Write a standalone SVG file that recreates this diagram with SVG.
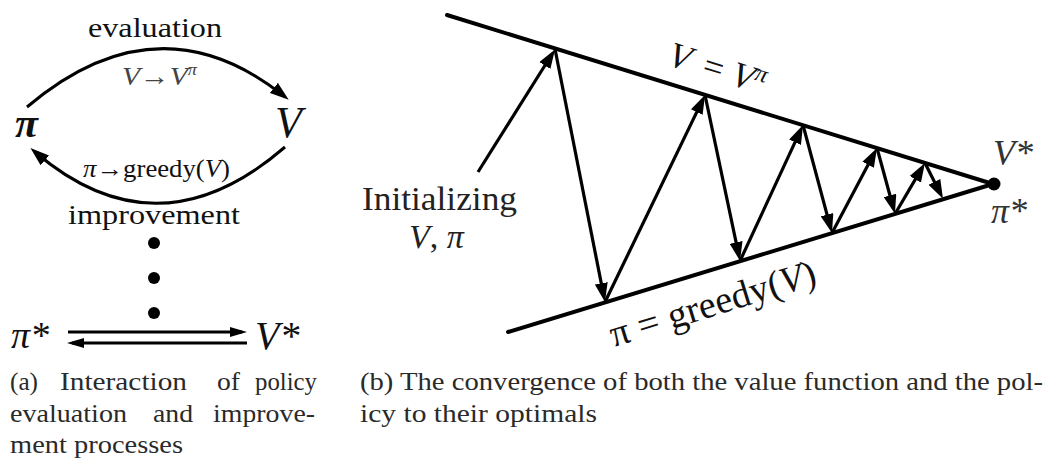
<svg xmlns="http://www.w3.org/2000/svg" width="1049" height="458" viewBox="0 0 1049 458">
<style>
  text { font-family: "Liberation Serif", "Times New Roman", serif; }
  .it { font-style: italic; }
  .lbl { fill: #111; }
  .cap { font-size: 25px; fill: #2a2a2a; }
  .edge { fill: none; stroke: #000; stroke-width: 3; }
  .bound { fill: none; stroke: #000; stroke-width: 4; stroke-linecap: round; }
  .zz { fill: none; stroke: #000; stroke-width: 3.2; marker-end: url(#ah); }
</style>
<defs>
  <marker id="ah" markerUnits="userSpaceOnUse" viewBox="0 0 19 13" markerWidth="19" markerHeight="13" refX="13" refY="6.5" orient="auto">
    <path d="M0,0 L19,6.5 L0,13 z" fill="#000"/>
  </marker>
  <marker id="ah2" markerUnits="userSpaceOnUse" viewBox="0 0 17 10" markerWidth="17" markerHeight="10" refX="12" refY="5" orient="auto">
    <path d="M0,0 L17,5 L0,10 z" fill="#000"/>
  </marker>
</defs>

<!-- ===== Left panel ===== -->
<g id="connectors-left">
  <path class="edge" d="M27,107 Q158,-4 284,96" marker-end="url(#ah)"/>
  <path class="edge" d="M285,147 Q158,257 35,152" marker-end="url(#ah)"/>
  <line class="edge" x1="68" y1="332" x2="242" y2="332" marker-end="url(#ah2)"/>
  <line class="edge" x1="247" y1="343" x2="72" y2="343" marker-end="url(#ah2)"/>
</g>
<g id="label-evaluation"><text x="88" y="37" font-size="27" textLength="134" lengthAdjust="spacingAndGlyphs" class="lbl">evaluation</text></g>
<g id="label-V-to-Vpi"><text x="122" y="85" font-size="26" fill="#444" textLength="75" lengthAdjust="spacingAndGlyphs"><tspan class="it">V</tspan>→<tspan class="it">V</tspan><tspan class="it" font-size="16" dy="-10">π</tspan></text></g>
<g id="node-pi"><text x="15" y="137" font-size="42" class="it lbl" font-weight="bold">π</text></g>
<g id="node-V"><text x="275" y="137" font-size="44" class="it lbl">V</text></g>
<g id="label-pi-greedy"><text x="83" y="177" font-size="25" class="lbl" textLength="147" lengthAdjust="spacingAndGlyphs"><tspan class="it">π</tspan>→greedy(<tspan class="it">V</tspan>)</text></g>
<g id="label-improvement"><text x="68" y="224" font-size="27" textLength="172" lengthAdjust="spacingAndGlyphs" class="lbl">improvement</text></g>
<g id="dots">
  <circle cx="154" cy="243" r="6" fill="#000"/>
  <circle cx="154" cy="278" r="6" fill="#000"/>
  <circle cx="154" cy="313" r="6" fill="#000"/>
</g>
<g id="node-pistar"><text x="11" y="348" font-size="38" class="it lbl">π*</text></g>
<g id="node-Vstar"><text x="255" y="349" font-size="40" class="it lbl">V*</text></g>

<!-- ===== Right panel ===== -->
<g id="boundary-lines">
  <line class="bound" x1="447" y1="15" x2="993" y2="184"/>
  <line class="bound" x1="508" y1="332" x2="993" y2="184"/>
</g>
<g id="connectors-right">
  <line class="zz" x1="478" y1="172" x2="551.8" y2="54.5"/>
  <line class="zz" x1="555" y1="49" x2="603.8" y2="296.1"/>
  <line class="zz" x1="605" y1="302" x2="702.4" y2="100.4"/>
  <line class="zz" x1="705" y1="95" x2="738.8" y2="255.1"/>
  <line class="zz" x1="740" y1="261" x2="800.5" y2="130.4"/>
  <line class="zz" x1="803" y1="125" x2="830.4" y2="227.2"/>
  <line class="zz" x1="832" y1="233" x2="874.2" y2="153.3"/>
  <line class="zz" x1="877" y1="148" x2="893.4" y2="208"/>
  <line class="zz" x1="895" y1="214" x2="921.9" y2="168.1"/>
  <line class="zz" x1="925" y1="163" x2="940.3" y2="193.5"/>
</g>
<g id="node-optimum"><circle cx="994" cy="184" r="6.5" fill="#000"/></g>
<g id="label-initializing">
  <text x="362" y="210" font-size="34" fill="#222" textLength="155" lengthAdjust="spacingAndGlyphs">Initializing</text>
  <text x="409" y="248" font-size="34" fill="#222"><tspan class="it">V</tspan>, <tspan class="it">π</tspan></text>
</g>
<g id="label-V-eq-Vpi">
  <text transform="translate(670,66) rotate(17.2)" font-size="36" class="lbl"><tspan x="-4" class="it">V</tspan><tspan x="32">=</tspan><tspan x="62" class="it">V</tspan><tspan x="84" dy="-12" font-size="24" class="it">π</tspan></text>
</g>
<g id="label-pi-eq-greedy">
  <text transform="translate(614,347) rotate(-17.2)" font-size="38" class="lbl" textLength="214">π = greedy(<tspan class="it">V</tspan>)</text>
</g>
<g id="label-Vstar"><text x="993" y="165" font-size="36" fill="#333" class="it">V*</text></g>
<g id="label-pistar"><text x="991" y="223" font-size="36" fill="#333" class="it">π*</text></g>

<!-- ===== Captions ===== -->
<g id="caption-a">
  <text class="cap" x="10" y="390" textLength="28" lengthAdjust="spacingAndGlyphs">(a)</text>
  <text class="cap" x="60" y="390" textLength="127" lengthAdjust="spacingAndGlyphs">Interaction</text>
  <text class="cap" x="217" y="390" textLength="23" lengthAdjust="spacingAndGlyphs">of</text>
  <text class="cap" x="255" y="390" textLength="62" lengthAdjust="spacingAndGlyphs">policy</text>
  <text class="cap" x="10" y="422" textLength="117" lengthAdjust="spacingAndGlyphs">evaluation</text>
  <text class="cap" x="153" y="422" textLength="40" lengthAdjust="spacingAndGlyphs">and</text>
  <text class="cap" x="213" y="422" textLength="102" lengthAdjust="spacingAndGlyphs">improve-</text>
  <text class="cap" x="10" y="453" textLength="173" lengthAdjust="spacingAndGlyphs">ment processes</text>
</g>
<g id="caption-b">
  <text class="cap" x="360" y="390" textLength="683" lengthAdjust="spacingAndGlyphs">(b) The convergence of both the value function and the pol-</text>
  <text class="cap" x="360" y="422" textLength="237" lengthAdjust="spacingAndGlyphs">icy to their optimals</text>
</g>
</svg>
